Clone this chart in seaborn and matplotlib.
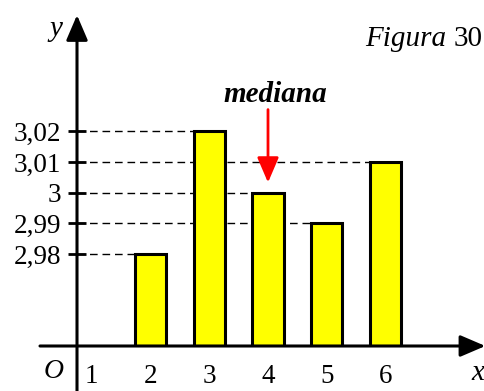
import pandas as pd
import matplotlib.pyplot as plt
import seaborn as sns

# Data
xs = [2, 3, 4, 5, 6]
values = [2.98, 3.02, 3.00, 2.99, 3.01]
x_ticks = [1, 2, 3, 4, 5, 6]
y_ticks = [2.98, 2.99, 3.00, 3.01, 3.02]
y_tick_labels = ["2,98", "2,99", "3", "3,01", "3,02"]
median_x = 4
median_value = 3.00

df = pd.DataFrame({"x": xs, "y": values})

sns.set_theme(style="white")
plt.rcParams["font.family"] = ["Liberation Serif", "DejaVu Serif"]
plt.rcParams["text.color"] = "black"

fig = plt.figure(figsize=(4.85, 3.91), dpi=100)
ax = fig.add_axes([0, 45 / 391, 1, 346 / 391])

bar_w = 0.53
sns.barplot(data=df, x="x", y="y", native_scale=True, width=bar_w,
            color="#FFFF00", saturation=1, edgecolor="black", linewidth=2.2,
            errorbar=None, ax=ax, zorder=2)

x0, y0 = 0.749, 2.9502  # where the drawn axes cross
ax.set_xlim(-0.5617, 7.6936)
ax.set_ylim(y0, 3.0626)
ax.set_xlabel("")
ax.set_ylabel("")
for s in ax.spines.values():
    s.set_visible(False)
ax.spines["left"].set_position(("data", x0))

# dashed guides from the y axis to each bar
ax.hlines(values, x0, [x - bar_w / 2 for x in xs], colors="black",
          linestyles=(0, (5.5, 3.5)), lw=1, zorder=1)

# axes with arrows
arrow = dict(arrowstyle="-|>,head_length=0.7,head_width=0.3", color="black",
             lw=2.2, mutation_scale=22, shrinkA=0, shrinkB=0)
ax.annotate("", xy=(x0, 3.0577), xytext=(x0, 2.93), arrowprops=arrow,
            annotation_clip=False)
ax.annotate("", xy=(7.70, y0), xytext=(0.119, y0), arrowprops=arrow,
            annotation_clip=False)

ax.set_yticks(y_ticks, y_tick_labels)
ax.set_xticks(x_ticks, [str(t) for t in x_ticks])
ax.tick_params(axis="y", left=True, direction="inout", length=13, width=2,
               pad=5, labelsize=19.5, colors="black")
ax.tick_params(axis="x", bottom=False, length=0, pad=13, labelsize=19.5,
               labelcolor="black")

# median marker
ax.annotate("", xy=(median_x, median_value + 0.0033), xytext=(median_x, 3.027),
            arrowprops=dict(arrowstyle="-|>,head_length=0.7,head_width=0.3",
                            color="red", lw=2, mutation_scale=22,
                            shrinkA=0, shrinkB=0))
ax.text(median_x + 0.12, 3.0318, "mediana", ha="center", va="center",
        fontsize=21, fontweight="bold", fontstyle="italic")

fig.text(56 / 485, 1 - 29 / 391, "y", fontsize=21, fontstyle="italic",
         ha="center", va="center")
fig.text(478 / 485, 1 - 373 / 391, "x", fontsize=21, fontstyle="italic",
         ha="center", va="center")
fig.text(54 / 485, 1 - 372 / 391, "O", fontsize=20, fontstyle="italic",
         ha="center", va="center")
fig.text(0.996, 0.883, "30", fontsize=21, ha="right", va="baseline")
fig.text(446 / 485, 0.883, "Figura", fontsize=21, fontstyle="italic",
         ha="right", va="baseline")

fig.savefig("out.png", dpi=100)
